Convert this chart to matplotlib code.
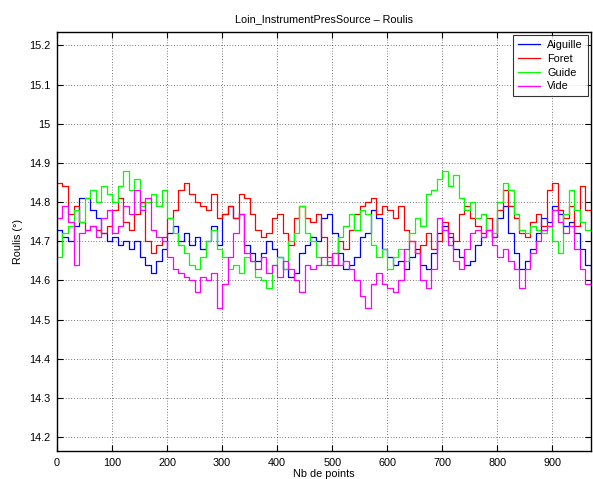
import numpy as np
import matplotlib
matplotlib.use("Agg")
import matplotlib.pyplot as plt

plt.rcParams['font.family'] = ['Liberation Sans', 'DejaVu Sans']

step = 10  # points between successive read values

aiguille = [14.73, 14.71, 14.70, 14.74, 14.81, 14.81, 14.78, 14.76, 14.72, 14.70,
            14.71, 14.69, 14.70, 14.68, 14.70, 14.66, 14.64, 14.62, 14.65, 14.68,
            14.72, 14.74, 14.70, 14.72, 14.69, 14.71, 14.68, 14.70, 14.74, 14.69,
            14.77, 14.79, 14.76, 14.77, 14.69, 14.67, 14.65, 14.67, 14.70, 14.68,
            14.66, 14.63, 14.61, 14.62, 14.67, 14.69, 14.71, 14.70, 14.76, 14.77,
            14.72, 14.67, 14.63, 14.64, 14.66, 14.71, 14.72, 14.78, 14.76, 14.68,
            14.66, 14.64, 14.65, 14.63, 14.66, 14.68, 14.64, 14.63, 14.67, 14.72,
            14.74, 14.71, 14.68, 14.66, 14.64, 14.65, 14.69, 14.71, 14.73, 14.71,
            14.76, 14.79, 14.72, 14.67, 14.63, 14.65, 14.68, 14.72, 14.76, 14.75,
            14.79, 14.77, 14.74, 14.75, 14.72, 14.68, 14.64, 14.62]

foret = [14.85, 14.84, 14.77, 14.79, 14.75, 14.73, 14.74, 14.73, 14.72, 14.74,
         14.78, 14.81, 14.75, 14.73, 14.77, 14.80, 14.70, 14.67, 14.69, 14.71,
         14.76, 14.78, 14.83, 14.85, 14.82, 14.80, 14.79, 14.78, 14.82, 14.76,
         14.77, 14.79, 14.76, 14.82, 14.81, 14.77, 14.73, 14.71, 14.72, 14.76,
         14.77, 14.72, 14.69, 14.76, 14.79, 14.76, 14.75, 14.77, 14.71, 14.66,
         14.64, 14.70, 14.68, 14.73, 14.77, 14.79, 14.80, 14.81, 14.77, 14.79,
         14.78, 14.76, 14.79, 14.73, 14.70, 14.67, 14.69, 14.72, 14.68, 14.70,
         14.75, 14.72, 14.70, 14.77, 14.79, 14.76, 14.74, 14.72, 14.76, 14.71,
         14.78, 14.83, 14.79, 14.76, 14.72, 14.71, 14.75, 14.77, 14.74, 14.83,
         14.85, 14.78, 14.76, 14.79, 14.74, 14.84, 14.78, 14.77]

guide = [14.66, 14.72, 14.74, 14.78, 14.75, 14.81, 14.83, 14.80, 14.84, 14.82,
         14.80, 14.84, 14.88, 14.83, 14.86, 14.79, 14.80, 14.82, 14.79, 14.83,
         14.76, 14.72, 14.69, 14.67, 14.64, 14.63, 14.66, 14.70, 14.73, 14.68,
         14.66, 14.63, 14.64, 14.62, 14.66, 14.65, 14.61, 14.60, 14.58, 14.64,
         14.66, 14.63, 14.70, 14.72, 14.79, 14.72, 14.70, 14.66, 14.64, 14.65,
         14.67, 14.71, 14.74, 14.77, 14.73, 14.78, 14.77, 14.69, 14.66, 14.68,
         14.63, 14.66, 14.68, 14.65, 14.72, 14.76, 14.74, 14.82, 14.83, 14.86,
         14.88, 14.84, 14.87, 14.81, 14.78, 14.80, 14.76, 14.77, 14.73, 14.72,
         14.80, 14.85, 14.83, 14.77, 14.73, 14.72, 14.74, 14.73, 14.72, 14.74,
         14.70, 14.67, 14.77, 14.83, 14.78, 14.75, 14.73, 14.74]

vide = [14.76, 14.79, 14.75, 14.64, 14.72, 14.73, 14.74, 14.71, 14.76, 14.78,
        14.72, 14.74, 14.79, 14.77, 14.83, 14.78, 14.81, 14.73, 14.71, 14.70,
        14.66, 14.63, 14.62, 14.61, 14.60, 14.57, 14.61, 14.60, 14.62, 14.53,
        14.59, 14.66, 14.72, 14.77, 14.67, 14.65, 14.63, 14.66, 14.62, 14.64,
        14.61, 14.65, 14.63, 14.60, 14.57, 14.64, 14.63, 14.64, 14.66, 14.64,
        14.67, 14.64, 14.65, 14.63, 14.60, 14.56, 14.53, 14.59, 14.62, 14.59,
        14.58, 14.57, 14.60, 14.68, 14.70, 14.67, 14.60, 14.58, 14.63, 14.76,
        14.73, 14.69, 14.65, 14.63, 14.68, 14.72, 14.73, 14.71, 14.73, 14.69,
        14.66, 14.68, 14.65, 14.63, 14.58, 14.63, 14.67, 14.70, 14.73, 14.74,
        14.78, 14.75, 14.72, 14.74, 14.68, 14.63, 14.59, 14.62]

series = [("Aiguille", aiguille, (0, 0, 1)),
          ("Foret", foret, (1, 0, 0)),
          ("Guide", guide, (0, 1, 0)),
          ("Vide", vide, (1, 0, 1))]

xticks = list(range(0, 1000, 100))
yticks = [14.2, 14.3, 14.4, 14.5, 14.6, 14.7, 14.8, 14.9, 15.0, 15.1, 15.2]
ytick_labels = ["14.2", "14.3", "14.4", "14.5", "14.6", "14.7", "14.8", "14.9", "15", "15.1", "15.2"]

fig = plt.figure(figsize=(5.93, 4.79), dpi=100)
ax = fig.add_axes([0.0961, 0.0585, 0.9005, 0.8747])

for name, vals, col in series:
    x = np.arange(len(vals)) * step
    ax.plot(x, vals, color=col, lw=0.9, drawstyle='steps-post', label=name)

ax.set_xlim(0, 970)
ax.set_ylim(14.165, 15.234)
ax.set_xticks(xticks)
ax.set_yticks(yticks)
ax.set_yticklabels(ytick_labels)
ax.grid(True, color='black', linestyle=(0, (1, 3)), linewidth=0.5)
ax.tick_params(direction='in', length=4, width=0.8, top=True, right=True,
               labelsize=7.8, pad=5)
for sp in ax.spines.values():
    sp.set_linewidth(1.0)

ax.set_title("Loin_InstrumentPresSource – Roulis", fontsize=7.8, pad=7)
ax.set_xlabel("Nb de points", fontsize=7.8, labelpad=1)
ax.set_ylabel("Roulis (°)", fontsize=7.8, labelpad=4)

leg = ax.legend(loc='upper right', fontsize=7.8, frameon=True, fancybox=False,
                edgecolor='black', handlelength=2.0, borderpad=0.45,
                labelspacing=0.35, handletextpad=0.7, borderaxespad=0.3)
leg.get_frame().set_linewidth(0.8)
for line in leg.get_lines():
    line.set_linewidth(0.9)

fig.savefig("out.png", dpi=100)
